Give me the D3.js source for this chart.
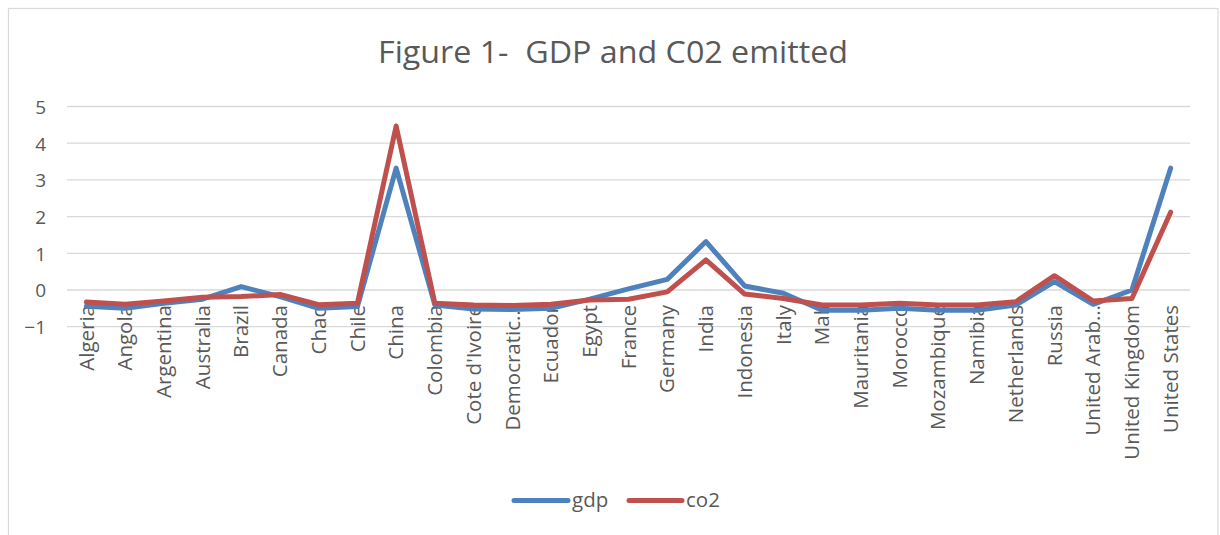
<!DOCTYPE html>
<html>
<head>
<meta charset="utf-8">
<script src="https://cdn.jsdelivr.net/npm/d3@7"></script>
<style>
  html, body { margin: 0; padding: 0; background: #fff; }
  svg { display: block; font-family: "Open Sans", "Noto Sans", sans-serif; }
</style>
</head>
<body>
<svg id="chart" width="1220" height="535"></svg>
<script>
// Countries along the category axis
const countries = [
  "Algeria", "Angola", "Argentina", "Australia", "Brazil", "Canada", "Chad", "Chile",
  "China", "Colombia", "Cote d'Ivoire", "Democratic Republic of the Congo", "Ecuador",
  "Egypt", "France", "Germany", "India", "Indonesia", "Italy", "Mali", "Mauritania",
  "Morocco", "Mozambique", "Namibia", "Netherlands", "Russia", "United Arab Emirates",
  "United Kingdom", "United States"
];
// Axis labels as shown (long names are cut short)
const tickLabels = [
  "Algeria", "Angola", "Argentina", "Australia", "Brazil", "Canada", "Chad", "Chile",
  "China", "Colombia", "Cote d'Ivoire", "Democratic…", "Ecuador",
  "Egypt", "France", "Germany", "India", "Indonesia", "Italy", "Mali", "Mauritania",
  "Morocco", "Mozambique", "Namibia", "Netherlands", "Russia", "United Arab…",
  "United Kingdom", "United States"
];
// Standardised GDP
const gdp = [
  -0.44, -0.50, -0.36, -0.25, 0.09, -0.18, -0.50, -0.45,
  3.32, -0.41, -0.52, -0.53, -0.50,
  -0.25, 0.03, 0.29, 1.32, 0.11, -0.09, -0.55, -0.55,
  -0.50, -0.55, -0.55, -0.41, 0.23, -0.39,
  0.00, 3.32
];
// Standardised CO2 emitted
const co2 = [
  -0.33, -0.39, -0.30, -0.20, -0.18, -0.12, -0.40, -0.36,
  4.47, -0.36, -0.41, -0.42, -0.39,
  -0.27, -0.25, -0.05, 0.82, -0.11, -0.23, -0.41, -0.41,
  -0.36, -0.41, -0.41, -0.32, 0.39, -0.30,
  -0.23, 2.12
];
const yTicks = [-1, 0, 1, 2, 3, 4, 5];
const seriesNames = ["gdp", "co2"];

const colors = { gdp: "#4F81BD", co2: "#C0504D" };
const textColor = "#595959";
const gridColor = "#d9d9d9";

const svg = d3.select("#chart");

svg.append("rect")
  .attr("x", 0).attr("y", 0).attr("width", 1220).attr("height", 535)
  .attr("fill", "#fff");

// chart frame
svg.append("rect")
  .attr("x", 8.5).attr("y", 8.5).attr("width", 1209.5).attr("height", 560)
  .attr("fill", "none").attr("stroke", gridColor).attr("stroke-width", 1.2);

// title (keeps its double space)
svg.append("text")
  .attr("x", 613).attr("y", 63)
  .attr("text-anchor", "middle")
  .attr("fill", textColor)
  .attr("font-size", 31)
  .attr("textLength", 470)
  .attr("lengthAdjust", "spacingAndGlyphs")
  .style("white-space", "pre")
  .text("Figure 1-  GDP and C02 emitted");

const plot = { left: 67, right: 1190, top: 106.5, bottom: 326.7 };

const x = d3.scaleBand()
  .domain(countries)
  .range([plot.left, plot.right])
  .padding(0);

const y = d3.scaleLinear()
  .domain([-1, 5])
  .range([plot.bottom, plot.top]);

const cx = d => x(d) + x.bandwidth() / 2;

// horizontal gridlines
svg.append("g")
  .selectAll("line")
  .data(yTicks)
  .join("line")
  .attr("x1", plot.left).attr("x2", plot.right)
  .attr("y1", d => y(d)).attr("y2", d => y(d))
  .attr("stroke", gridColor).attr("stroke-width", 1.3);

// value axis labels
const yAxis = d3.axisLeft(y).tickValues(yTicks).tickSize(0).tickPadding(0).tickFormat(d3.format("d"));
const yg = svg.append("g")
  .attr("transform", `translate(46,0)`)
  .call(yAxis);
yg.select(".domain").remove();
yg.selectAll("text")
  .attr("fill", textColor)
  .attr("font-size", 19)
  .attr("font-family", "'Open Sans', sans-serif")
  .attr("dy", "0.36em");

// category labels, rotated
const xAxis = d3.axisBottom(x).tickSize(0).tickPadding(0)
  .tickFormat((d, i) => tickLabels[i]);
const xg = svg.append("g")
  .attr("transform", `translate(0,305)`)
  .call(xAxis);
xg.select(".domain").remove();
xg.selectAll("text")
  .attr("fill", textColor)
  .attr("font-size", 20.5)
  .attr("font-family", "'Open Sans', sans-serif")
  .attr("text-anchor", "end")
  .attr("transform", "rotate(-90)")
  .attr("x", 0).attr("y", 0)
  .attr("dy", "0.35em");

// series lines
const line = d3.line()
  .x((d, i) => cx(countries[i]))
  .y(d => y(d));

const data = { gdp, co2 };
seriesNames.forEach(name => {
  svg.append("path")
    .datum(data[name])
    .attr("d", line)
    .attr("fill", "none")
    .attr("stroke", colors[name])
    .attr("stroke-width", 5)
    .attr("stroke-linejoin", "round")
    .attr("stroke-linecap", "round");
});

// legend
const legendItems = [
  { name: "gdp", x1: 514, x2: 568, tx: 572 },
  { name: "co2", x1: 629, x2: 682, tx: 686 }
];
const lg = svg.append("g");
legendItems.forEach(it => {
  lg.append("line")
    .attr("x1", it.x1).attr("x2", it.x2)
    .attr("y1", 500.5).attr("y2", 500.5)
    .attr("stroke", colors[it.name]).attr("stroke-width", 5)
    .attr("stroke-linecap", "round");
  lg.append("text")
    .attr("x", it.tx).attr("y", 507)
    .attr("fill", textColor)
    .attr("font-size", 20.5)
    .text(it.name);
});
</script>
</body>
</html>
